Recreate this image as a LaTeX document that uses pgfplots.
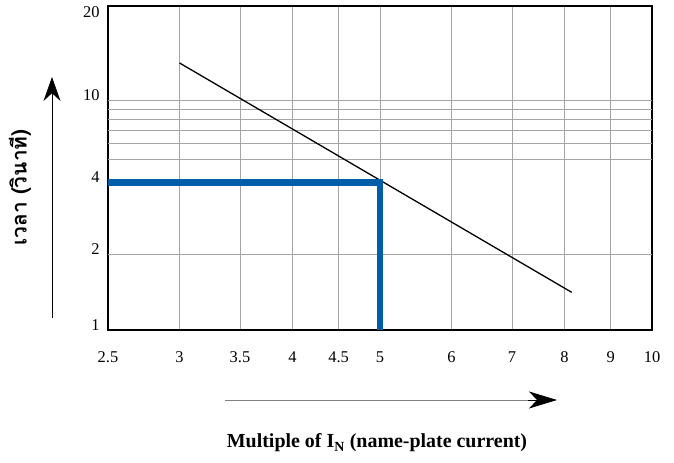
\documentclass[border=0pt]{standalone}
\usepackage{fontspec}
\setmainfont{Liberation Serif}
\newfontfamily\thaifont[Script=Thai]{Loma}
\usepackage{pgfplots}
\pgfplotsset{compat=1.18}
\usetikzlibrary{arrows.meta}
\definecolor{bl}{RGB}{0,94,168}
\definecolor{gridgray}{RGB}{165,165,165}
\begin{document}
\begin{tikzpicture}
\path[use as bounding box] (-108bp,-133bp) rectangle (566bp,330bp);
\begin{axis}[
  at={(0,0)}, anchor=south west,
  scale only axis, width=544bp, height=324bp,
  xmode=log, log basis x=10,
  xmin=2.5, xmax=10,
  ymin=1, ymax=20,
  y coord trafo/.code={%
    \pgfmathparse{ln(#1)/2.302585}%
    \let\Lv\pgfmathresult
    \pgfmathparse{\Lv<0.30103 ? 252.47*\Lv : (\Lv<0.69897 ? 76+238.73*(\Lv-0.30103) : (\Lv<1 ? 171+196.0*(\Lv-0.69897) : 230+312.26*(\Lv-1)))}%
  },
  xtick={2.5,3,3.5,4,4.5,5,6,7,8,9,10},
  xticklabels={2.5,3,3.5,4,4.5,5,6,7,8,9,10},
  ytick={1,2,4,10,20},
  yticklabels={1,2,4,10,\smash{\raisebox{-17bp}{20}}},
  extra y ticks={2,5,6,7,8,9,10},
  extra y tick labels={},
  extra y tick style={grid=major},
  xmajorgrids=true,
  major tick length=0pt,
  grid style={gridgray, line width=0.9bp},
  axis line style={black, line width=2.2bp},
  tick label style={font=\fontsize{16.5}{18}\selectfont},
  /pgf/number format/assume math mode=true,
  xticklabel style={yshift=-18bp},
  yticklabel style={xshift=-5bp, yshift=5bp},
  xlabel={\fontsize{20}{23}\selectfont\bfseries Multiple of I\textsubscript{N} (name-plate current)},
  xlabel style={at={(axis description cs:0.4945,-0.349)}, anchor=center},
  ylabel={\thaifont\fontsize{21}{24}\selectfont\bfseries เวลา (วินาที)},
  ylabel style={at={(axis description cs:-0.162,0.44)}, anchor=center},
]
\addplot[black, line width=1.3bp] coordinates {(3,13.14) (8.15,1.41)};
\addplot[bl, line width=6.8bp, line join=miter] coordinates {(2.5,4) (5,4) (5,1)};
\end{axis}
\draw[black, line width=0.8bp, -{Stealth[length=24bp, width=17bp]}] (-56bp,12bp) -- (-56bp,253bp);
\draw[gray, line width=0.8bp] (117bp,-70bp) -- (425bp,-70bp);
\draw[black, line width=0.8bp, -{Stealth[length=28bp, width=17bp, inset=8bp]}] (420bp,-70bp) -- (449bp,-70bp);
\end{tikzpicture}
\end{document}
